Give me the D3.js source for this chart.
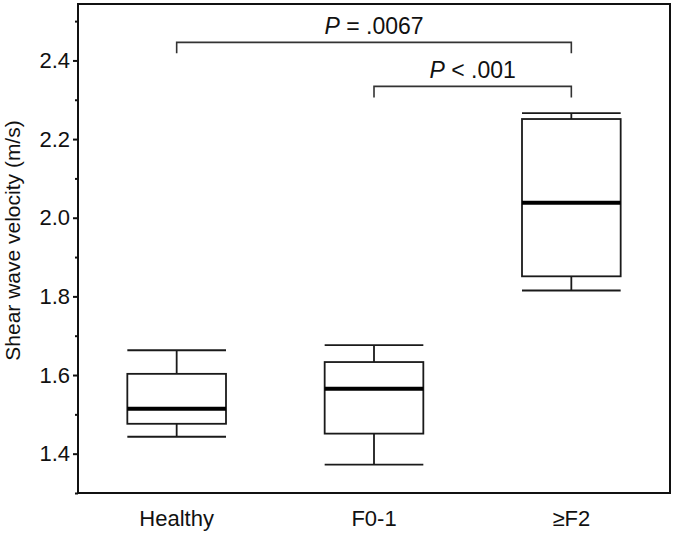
<!DOCTYPE html>
<html>
<head>
<meta charset="utf-8">
<script src="https://cdn.jsdelivr.net/npm/d3@7"></script>
<style>
  body { margin: 0; background: #fff; }
  text { font-family: "Liberation Sans", Arial, sans-serif; fill: #111; }
</style>
</head>
<body>
<svg id="chart" width="674" height="533"></svg>
<script>
// groups and box stats (m/s)
var groups = ["Healthy", "F0-1", "\u2265F2"];
var whiskerLow = [1.443, 1.372, 1.815];
var q1 = [1.476, 1.451, 1.851];
var median = [1.514, 1.565, 2.038];
var q3 = [1.603, 1.633, 2.251];
var whiskerHigh = [1.663, 1.676, 2.266];

var majorTicks = [1.4, 1.6, 1.8, 2.0, 2.2, 2.4];
var minorTicks = [1.3, 1.5, 1.7, 1.9, 2.1, 2.3, 2.5];

// significance brackets: from group, to group, level, label parts
var bracketFrom = [0, 1];
var bracketTo = [2, 2];
var bracketLevel = [2.446, 2.334];
var bracketOp = ["= .0067", "< .001"];

var margin = { top: 4, right: 4, bottom: 40, left: 78 },
    width = 674 - margin.left - margin.right,
    height = 533 - margin.top - margin.bottom;

var svg = d3.select("#chart");
var g = svg.append("g").attr("transform", "translate(" + margin.left + "," + margin.top + ")");

var x = d3.scalePoint().domain(groups).range([0, width]).padding(0.5);
var y = d3.scaleLinear().domain([1.3, 2.5435]).range([height, 0]);
var boxW = x.step() * 0.5;

// axis ticks (left only)
g.append("g")
    .call(d3.axisLeft(y).tickValues(minorTicks).tickSize(3).tickFormat(""))
    .call(function (a) { a.select(".domain").remove(); })
    .selectAll("line").attr("stroke", "#111").attr("stroke-width", 2);

var ya = g.append("g")
    .call(d3.axisLeft(y).tickValues(majorTicks).tickSize(5).tickPadding(3).tickFormat(d3.format(".1f")));
ya.select(".domain").remove();
ya.selectAll("line").attr("stroke", "#111").attr("stroke-width", 2);
ya.selectAll("text").style("font-size", "22px").attr("fill", "#111");

// frame
g.append("rect")
    .attr("width", width).attr("height", height)
    .attr("fill", "none").attr("stroke", "#111").attr("stroke-width", 2);

// x labels
g.selectAll(".xlab").data(groups).enter().append("text")
    .attr("class", "xlab")
    .attr("x", function (d) { return x(d); })
    .attr("y", height + 33)
    .attr("text-anchor", "middle")
    .style("font-size", "22px")
    .text(function (d) { return d; });

// y title
svg.append("text")
    .attr("transform", "translate(20," + (margin.top + height / 2 - 8) + ") rotate(-90)")
    .attr("text-anchor", "middle")
    .style("font-size", "21px")
    .text("Shear wave velocity (m/s)");

// boxes
var boxes = g.selectAll(".box").data(groups).enter().append("g").attr("class", "box");

boxes.append("line")
    .attr("x1", function (d) { return x(d); })
    .attr("x2", function (d) { return x(d); })
    .attr("y1", function (d, i) { return y(whiskerLow[i]); })
    .attr("y2", function (d, i) { return y(whiskerHigh[i]); })
    .attr("stroke", "#1a1a1a").attr("stroke-width", 1.8);

boxes.selectAll(".cap")
    .data(function (d, i) { return [{ g: d, v: whiskerLow[i] }, { g: d, v: whiskerHigh[i] }]; })
    .enter().append("line")
    .attr("x1", function (d) { return x(d.g) - boxW / 2; })
    .attr("x2", function (d) { return x(d.g) + boxW / 2; })
    .attr("y1", function (d) { return y(d.v); })
    .attr("y2", function (d) { return y(d.v); })
    .attr("stroke", "#1a1a1a").attr("stroke-width", 1.8);

boxes.append("rect")
    .attr("x", function (d) { return x(d) - boxW / 2; })
    .attr("y", function (d, i) { return y(q3[i]); })
    .attr("width", boxW)
    .attr("height", function (d, i) { return y(q1[i]) - y(q3[i]); })
    .attr("fill", "#fff").attr("stroke", "#1a1a1a").attr("stroke-width", 1.8);

boxes.append("line")
    .attr("x1", function (d) { return x(d) - boxW / 2; })
    .attr("x2", function (d) { return x(d) + boxW / 2; })
    .attr("y1", function (d, i) { return y(median[i]); })
    .attr("y2", function (d, i) { return y(median[i]); })
    .attr("stroke", "#000").attr("stroke-width", 4);

// brackets
bracketLevel.forEach(function (lv, i) {
    var x1 = x(groups[bracketFrom[i]]), x2 = x(groups[bracketTo[i]]);
    var yl = y(lv);
    g.append("path")
        .attr("d", "M" + x1 + "," + (yl + 11) + "V" + yl + "H" + x2 + "V" + (yl + 11))
        .attr("fill", "none").attr("stroke", "#333").attr("stroke-width", 1.6);
    var t = g.append("text")
        .attr("x", (x1 + x2) / 2)
        .attr("y", yl - 8)
        .attr("text-anchor", "middle")
        .style("font-size", "23px");
    t.append("tspan").style("font-style", "italic").text("P");
    t.append("tspan").text(" " + bracketOp[i]);
});
</script>
</body>
</html>
